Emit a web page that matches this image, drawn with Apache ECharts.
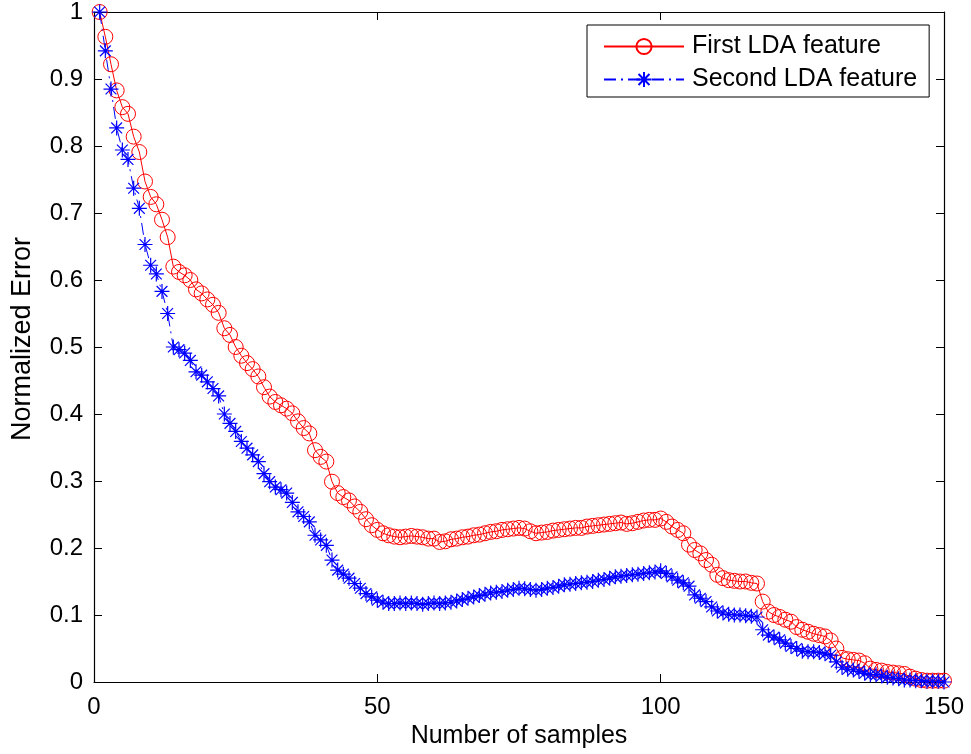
<!DOCTYPE html>
<html>
<head>
<meta charset="utf-8">
<script src="https://cdn.jsdelivr.net/npm/echarts@6/dist/echarts.min.js"></script>
<style>
  html, body { margin: 0; padding: 0; background: #ffffff; }
  #chart { width: 971px; height: 754px; }
</style>
</head>
<body>
<div id="chart"></div>
<script>
// ---- Data ----
var seriesNames = ['First LDA feature', 'Second LDA feature'];
var xAxisTicks = [0, 50, 100, 150];
var yAxisTicks = [0, 0.1, 0.2, 0.3, 0.4, 0.5, 0.6, 0.7, 0.8, 0.9, 1];

// Normalized error of the first LDA feature, samples 1..150
var firstLDA = [
  1.000, 0.963, 0.922, 0.883, 0.858, 0.848, 0.814, 0.791, 0.747, 0.724,
  0.713, 0.690, 0.664, 0.620, 0.612, 0.607, 0.600, 0.586, 0.580, 0.571,
  0.563, 0.551, 0.528, 0.518, 0.500, 0.487, 0.476, 0.467, 0.456, 0.440,
  0.426, 0.418, 0.413, 0.408, 0.401, 0.389, 0.379, 0.371, 0.346, 0.336,
  0.329, 0.299, 0.282, 0.276, 0.271, 0.262, 0.254, 0.243, 0.234, 0.227,
  0.222, 0.219, 0.217, 0.216, 0.217, 0.218, 0.217, 0.216, 0.214, 0.214,
  0.209, 0.210, 0.213, 0.214, 0.216, 0.217, 0.219, 0.220, 0.222, 0.224,
  0.225, 0.227, 0.228, 0.229, 0.230, 0.229, 0.225, 0.222, 0.223, 0.224,
  0.226, 0.227, 0.228, 0.229, 0.230, 0.230, 0.232, 0.233, 0.234, 0.235,
  0.236, 0.237, 0.238, 0.236, 0.237, 0.239, 0.241, 0.242, 0.242, 0.244,
  0.239, 0.232, 0.227, 0.222, 0.205, 0.197, 0.192, 0.182, 0.175, 0.160,
  0.155, 0.152, 0.151, 0.150, 0.150, 0.148, 0.147, 0.120, 0.105, 0.100,
  0.097, 0.093, 0.090, 0.082, 0.078, 0.075, 0.072, 0.070, 0.068, 0.062,
  0.050, 0.036, 0.034, 0.033, 0.032, 0.028, 0.020, 0.018, 0.017, 0.015,
  0.014, 0.013, 0.012, 0.008, 0.005, 0.003, 0.002, 0.002, 0.002, 0.002
];

// Normalized error of the second LDA feature, samples 1..150
var secondLDA = [
  1.000, 0.942, 0.885, 0.827, 0.794, 0.780, 0.737, 0.707, 0.653, 0.622,
  0.609, 0.583, 0.550, 0.500, 0.496, 0.491, 0.480, 0.463, 0.458, 0.448,
  0.438, 0.427, 0.400, 0.386, 0.374, 0.359, 0.349, 0.339, 0.329, 0.311,
  0.299, 0.291, 0.287, 0.282, 0.268, 0.254, 0.247, 0.239, 0.219, 0.212,
  0.204, 0.182, 0.167, 0.161, 0.155, 0.147, 0.140, 0.132, 0.127, 0.122,
  0.119, 0.117, 0.117, 0.118, 0.117, 0.118, 0.117, 0.116, 0.117, 0.118,
  0.117, 0.118, 0.119, 0.121, 0.123, 0.125, 0.127, 0.129, 0.131, 0.133,
  0.134, 0.135, 0.137, 0.138, 0.140, 0.139, 0.138, 0.137, 0.138, 0.140,
  0.141, 0.143, 0.145, 0.146, 0.147, 0.148, 0.149, 0.150, 0.152, 0.153,
  0.155, 0.157, 0.158, 0.159, 0.160, 0.161, 0.162, 0.163, 0.164, 0.166,
  0.162, 0.157, 0.152, 0.148, 0.143, 0.130, 0.125, 0.120, 0.112, 0.106,
  0.103, 0.101, 0.100, 0.100, 0.099, 0.098, 0.097, 0.078, 0.070, 0.067,
  0.063, 0.058, 0.053, 0.050, 0.046, 0.045, 0.045, 0.044, 0.042, 0.040,
  0.030, 0.022, 0.019, 0.018, 0.016, 0.013, 0.011, 0.011, 0.009, 0.007,
  0.006, 0.005, 0.003, 0.003, 0.002, 0.002, 0.001, 0.001, 0.001, 0.000
];

// ---- Build series data: sample number (1-based) vs error ----
function toPairs(values) {
  return values.map(function (v, i) { return [i + 1, v]; });
}

var FONT = '"Liberation Sans", Arial, Helvetica, sans-serif';
var starPath = 'path://M0,-10L0,10M-10,0L10,0M-7.2,-7.2L7.2,7.2M-7.2,7.2L7.2,-7.2';

var chart = echarts.init(document.getElementById('chart'), null, { renderer: 'canvas' });

var axisCommon = {
  type: 'value',
  axisLine: { show: true, onZero: false, lineStyle: { color: '#000', width: 1.2 } },
  axisTick: { show: true, inside: true, length: 8, lineStyle: { color: '#000', width: 1 } },
  splitLine: { show: false }
};

var option = {
  backgroundColor: '#ffffff',
  animation: false,
  textStyle: { fontFamily: FONT },
  grid: { left: 94, top: 12, right: 27, bottom: 72, containLabel: false },
  legend: {
    data: seriesNames,
    orient: 'vertical',
    left: 587,
    top: 25,
    padding: [9, 12, 5, 16],
    itemGap: 8,
    itemWidth: 80,
    itemHeight: 19,
    backgroundColor: '#ffffff',
    borderColor: '#000',
    borderWidth: 1,
    borderRadius: 0,
    textStyle: { fontFamily: FONT, fontSize: 25, color: '#000', padding: [0, 0, 0, 3] }
  },
  xAxis: [
    Object.assign({}, axisCommon, {
      position: 'bottom',
      min: xAxisTicks[0], max: xAxisTicks[xAxisTicks.length - 1], interval: 50,
      name: 'Number of samples', nameLocation: 'middle', nameGap: 40,
      nameTextStyle: { fontFamily: FONT, fontSize: 25, color: '#000' },
      axisLabel: { show: true, margin: 13, fontFamily: FONT, fontSize: 24, color: '#000' }
    }),
    Object.assign({}, axisCommon, {
      position: 'top',
      min: xAxisTicks[0], max: xAxisTicks[xAxisTicks.length - 1], interval: 50,
      axisLabel: { show: false }
    })
  ],
  yAxis: [
    Object.assign({}, axisCommon, {
      position: 'left',
      min: yAxisTicks[0], max: yAxisTicks[yAxisTicks.length - 1], interval: 0.1,
      name: 'Normalized Error', nameLocation: 'middle', nameGap: 58,
      nameTextStyle: { fontFamily: FONT, fontSize: 27, color: '#000', padding: [0, 0, 0, 16] },
      axisLabel: { show: true, margin: 11, fontFamily: FONT, fontSize: 24, color: '#000' }
    }),
    Object.assign({}, axisCommon, {
      position: 'right',
      min: yAxisTicks[0], max: yAxisTicks[yAxisTicks.length - 1], interval: 0.1,
      axisLabel: { show: false }
    })
  ],
  series: [
    {
      name: seriesNames[0],
      type: 'line',
      xAxisIndex: 0, yAxisIndex: 0,
      data: toPairs(firstLDA),
      symbol: 'circle',
      symbolSize: 15,
      showAllSymbol: true,
      lineStyle: { color: '#ff0000', width: 1, type: 'solid' },
      itemStyle: { color: 'none', borderColor: '#ff0000', borderWidth: 1 },
      emphasis: { disabled: true }
    },
    {
      name: seriesNames[1],
      type: 'line',
      xAxisIndex: 0, yAxisIndex: 0,
      data: toPairs(secondLDA),
      symbol: starPath,
      symbolSize: 15,
      showAllSymbol: true,
      lineStyle: { color: '#0000ff', width: 1, type: [12, 5, 2, 5] },
      itemStyle: { color: 'none', borderColor: '#0000ff', borderWidth: 1.2 },
      emphasis: { disabled: true }
    }
  ]
};

chart.setOption(option);
</script>
</body>
</html>
